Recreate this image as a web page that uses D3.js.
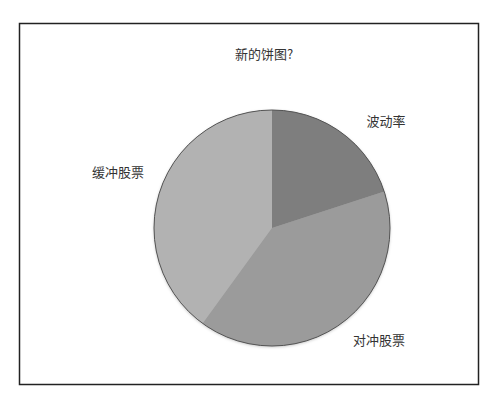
<!DOCTYPE html>
<html>
<head>
<meta charset="utf-8">
<script src="https://cdn.jsdelivr.net/npm/d3@7"></script>
<style>
  body { margin: 0; background: #fff; }
  text { font-family: "Noto Sans CJK SC", "Noto Sans", sans-serif; fill: #333; }
</style>
</head>
<body>
<div id="chart"></div>
<script>
var svgWidth = 500;
var svgHeight = 403;

// data
var title = "新的饼图?";
var categories = ["波动率", "对冲股票", "缓冲股票"];
var values = [20, 40, 40];
var colors = ["#7e7e7e", "#9b9b9b", "#b2b2b2"];

var cx = 272, cy = 228, radius = 118;

var svg = d3.select("#chart")
  .append("svg")
  .attr("width", svgWidth)
  .attr("height", svgHeight);

// frame
svg.append("rect")
  .attr("x", 19.5)
  .attr("y", 23.5)
  .attr("width", 459)
  .attr("height", 361)
  .attr("fill", "#fff")
  .attr("stroke", "#222")
  .attr("stroke-width", 1.5);

svg.append("text")
  .attr("x", 264)
  .attr("y", 59)
  .attr("text-anchor", "middle")
  .attr("font-size", 13)
  .text(title);

// soft shadow under the pie
var shadow = svg.append("defs").append("filter").attr("id", "shadow")
  .attr("x", "-10%").attr("y", "-10%").attr("width", "120%").attr("height", "120%");
shadow.append("feDropShadow")
  .attr("dx", 0).attr("dy", 1).attr("stdDeviation", 1.5)
  .attr("flood-color", "#000").attr("flood-opacity", 0.25);

var data = categories.map(function (c, i) {
  return { name: c, value: values[i], color: colors[i] };
});

var pie = d3.pie().sort(null).value(d => d.value);
var arc = d3.arc().innerRadius(0).outerRadius(radius);

var pieGroup = svg.append("g")
  .attr("transform", `translate(${cx}, ${cy})`);

pieGroup.append("circle")
  .attr("r", radius)
  .attr("fill", "#999")
  .attr("filter", "url(#shadow)");

pieGroup.selectAll("path")
  .data(pie(data))
  .enter()
  .append("path")
  .attr("d", arc)
  .attr("fill", d => d.data.color);

pieGroup.append("circle")
  .attr("r", radius)
  .attr("fill", "none")
  .attr("stroke", "#555")
  .attr("stroke-width", 1);

// label spots outside the pie, one per slice
var labelPos = [
  { x: 386, y: 126 },
  { x: 379, y: 345 },
  { x: 118, y: 177 }
];
pieGroup.selectAll("text.label")
  .data(pie(data))
  .enter()
  .append("text")
  .attr("class", "label")
  .attr("font-size", 13)
  .attr("text-anchor", "middle")
  .attr("x", (d, i) => labelPos[i].x - cx)
  .attr("y", (d, i) => labelPos[i].y - cy)
  .text(d => d.data.name);
</script>
</body>
</html>
